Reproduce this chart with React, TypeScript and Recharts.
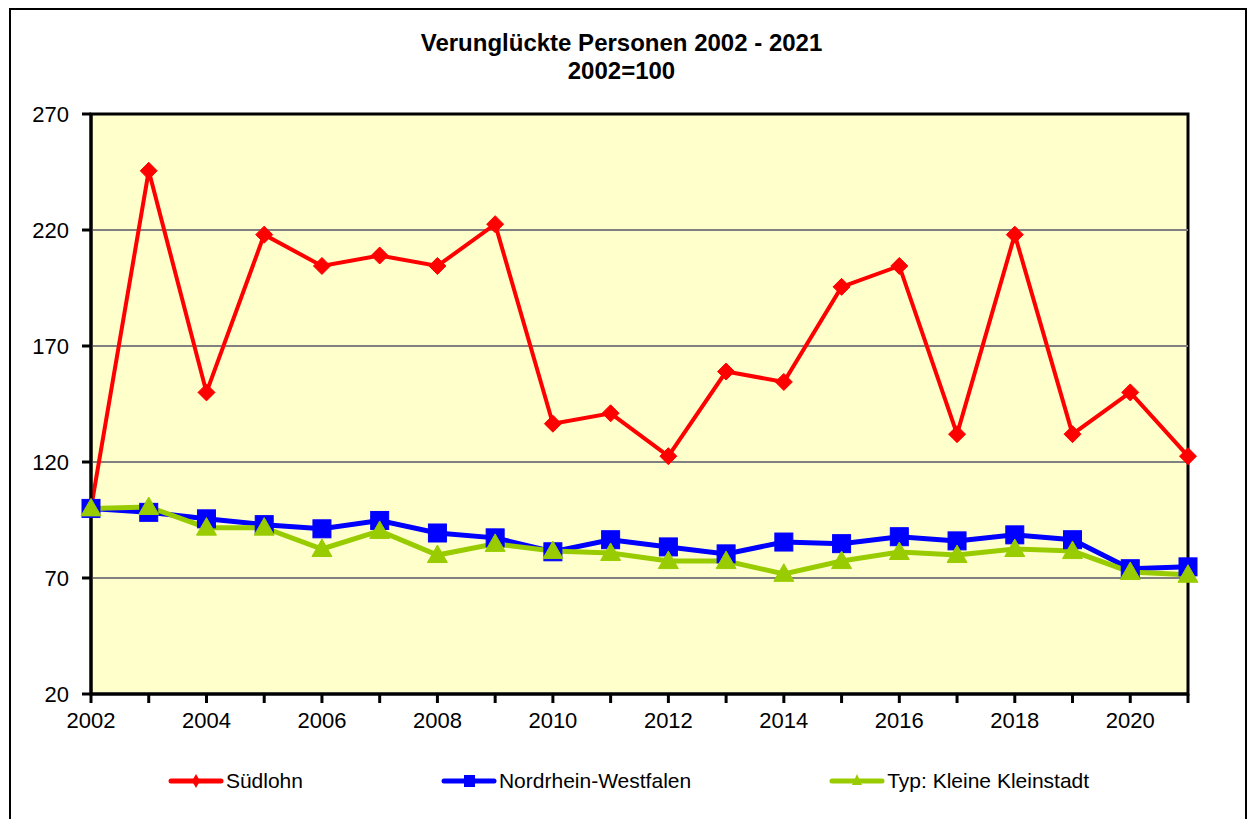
import React from 'react';
import {
  LineChart,
  Line,
  XAxis,
  YAxis,
  ReferenceArea,
  ReferenceLine,
  Legend,
} from 'recharts';

const years = [2002, 2003, 2004, 2005, 2006, 2007, 2008, 2009, 2010, 2011, 2012, 2013, 2014, 2015, 2016, 2017, 2018, 2019, 2020, 2021];
const suedlohn = [100, 245.5, 150, 218, 204.5, 209, 204.5, 222.5, 136.5, 141, 122.5, 159, 154.5, 195.5, 204.5, 132, 218, 132, 150, 122.5];
const nrw = [100, 98.3, 95.5, 93, 91.2, 94.8, 89.4, 87.3, 81.3, 86.5, 83.4, 80.4, 85.5, 84.8, 87.8, 86, 88.6, 86.5, 74, 74.8];
const kleinstadt = [100, 100.6, 91.7, 91.7, 82.5, 90.3, 79.9, 84.7, 81.6, 80.8, 77.3, 77.3, 71.8, 77.3, 81.2, 79.9, 82.5, 81.6, 72.6, 71.4];
const yTicks = [20, 70, 120, 170, 220, 270];
const gridValues = [70, 120, 170, 220];
const seriesNames = ['Südlohn', 'Nordrhein-Westfalen', 'Typ: Kleine Kleinstadt'];
const seriesColors = ['#FF0000', '#0000FF', '#99CC00'];

const data = years.map((y, i) => ({
  year: y,
  s: suedlohn[i],
  n: nrw[i],
  k: kleinstadt[i],
}));

const FONT = 'Arial, "Liberation Sans", sans-serif';

const Diamond = (props: any) => {
  const { cx, cy } = props;
  if (cx == null || cy == null) return null;
  const r = 8.5;
  return (
    <polygon
      key={`d-${cx}-${cy}`}
      points={`${cx},${cy - r} ${cx + r},${cy} ${cx},${cy + r} ${cx - r},${cy}`}
      fill="#FF0000"
      stroke="#FF0000"
    />
  );
};

const Square = (props: any) => {
  const { cx, cy } = props;
  if (cx == null || cy == null) return null;
  const r = 9;
  return (
    <rect key={`s-${cx}-${cy}`} x={cx - r} y={cy - r} width={2 * r} height={2 * r} fill="#0000FF" stroke="#0000FF" />
  );
};

const Triangle = (props: any) => {
  const { cx, cy } = props;
  if (cx == null || cy == null) return null;
  const r = 10;
  return (
    <polygon
      key={`t-${cx}-${cy}`}
      points={`${cx},${cy - r} ${cx + r},${cy + r * 0.75} ${cx - r},${cy + r * 0.75}`}
      fill="#99CC00"
      stroke="#99CC00"
    />
  );
};

const LegendIcon = ({ idx }: { idx: number }) => {
  const c = seriesColors[idx];
  return (
    <svg width={56} height={20} style={{ display: 'block' }}>
      <line x1={3} y1={10} x2={53} y2={10} stroke={c} strokeWidth={5} strokeLinecap="round" />
      {idx === 0 && <polygon points="28,3 32,10 28,17 24,10" fill={c} />}
      {idx === 1 && <rect x={23} y={4} width={11} height={12} fill={c} />}
      {idx === 2 && <polygon points="28,3 33,14 23,14" fill={c} />}
    </svg>
  );
};

const renderLegend = () => (
  <div
    style={{
      display: 'flex',
      justifyContent: 'center',
      alignItems: 'center',
      gap: 138,
      paddingLeft: 8,
      fontFamily: FONT,
      fontSize: 21,
      color: '#000',
    }}
  >
    {seriesNames.map((name, i) => (
      <div key={name} style={{ display: 'flex', alignItems: 'center', gap: 2 }}>
        <LegendIcon idx={i} />
        <span>{name}</span>
      </div>
    ))}
  </div>
);

export default function App() {
  return (
    <div style={{ position: 'absolute', left: 0, top: 0, width: 1249, height: 819, background: '#fff', overflow: 'hidden' }}>
      <div
        style={{
          position: 'absolute',
          left: 9,
          top: 8,
          width: 1234,
          height: 830,
          border: '2px solid #000',
        }}
      />
      <div
        style={{
          position: 'absolute',
          left: -3,
          top: 29,
          width: 1249,
          textAlign: 'center',
          fontFamily: FONT,
          fontWeight: 'bold',
          fontSize: 24,
          lineHeight: '28px',
          color: '#000',
        }}
      >
        <div>Verunglückte Personen 2002 - 2021</div>
        <div>2002=100</div>
      </div>
      <div style={{ position: 'absolute', left: 0, top: 0 }}>
        <LineChart
          width={1249}
          height={819}
          data={data}
          margin={{ top: 114, right: 61, left: 31, bottom: 85 }}
        >
          <ReferenceArea
            x1={2002}
            x2={2021}
            y1={20}
            y2={270}
            fill="#FFFFCC"
            fillOpacity={1}
            stroke="#000"
            strokeWidth={3}
            ifOverflow="visible"
          />
          {gridValues.map((v) => (
            <ReferenceLine key={v} y={v} stroke="#808080" strokeWidth={2} />
          ))}
          <XAxis
            dataKey="year"
            type="number"
            domain={[2002, 2021]}
            ticks={years}
            interval={0}
            tickFormatter={(v: number) => (v % 2 === 0 ? String(v) : '')}
            height={40}
            tickSize={9}
            tickMargin={9}
            stroke="#000"
            strokeWidth={3}
            tick={{ fill: '#000', fontSize: 22, fontFamily: FONT }}
          />
          <YAxis
            type="number"
            domain={[20, 270]}
            ticks={yTicks}
            interval={0}
            width={60}
            tickSize={9}
            tickMargin={13}
            stroke="#000"
            strokeWidth={3}
            tick={{ fill: '#000', fontSize: 22, fontFamily: FONT }}
          />
          <Legend
            layout="horizontal"
            verticalAlign="middle"
            align="center"
            content={renderLegend}
            wrapperStyle={{ top: 769, left: 0, width: 1249 }}
          />
          <Line
            type="linear"
            dataKey="s"
            name={seriesNames[0]}
            stroke="#FF0000"
            strokeWidth={4}
            dot={<Diamond />}
            activeDot={false}
            isAnimationActive={false}
          />
          <Line
            type="linear"
            dataKey="n"
            name={seriesNames[1]}
            stroke="#0000FF"
            strokeWidth={5}
            dot={<Square />}
            activeDot={false}
            isAnimationActive={false}
          />
          <Line
            type="linear"
            dataKey="k"
            name={seriesNames[2]}
            stroke="#99CC00"
            strokeWidth={5}
            dot={<Triangle />}
            activeDot={false}
            isAnimationActive={false}
          />
        </LineChart>
      </div>
    </div>
  );
}
